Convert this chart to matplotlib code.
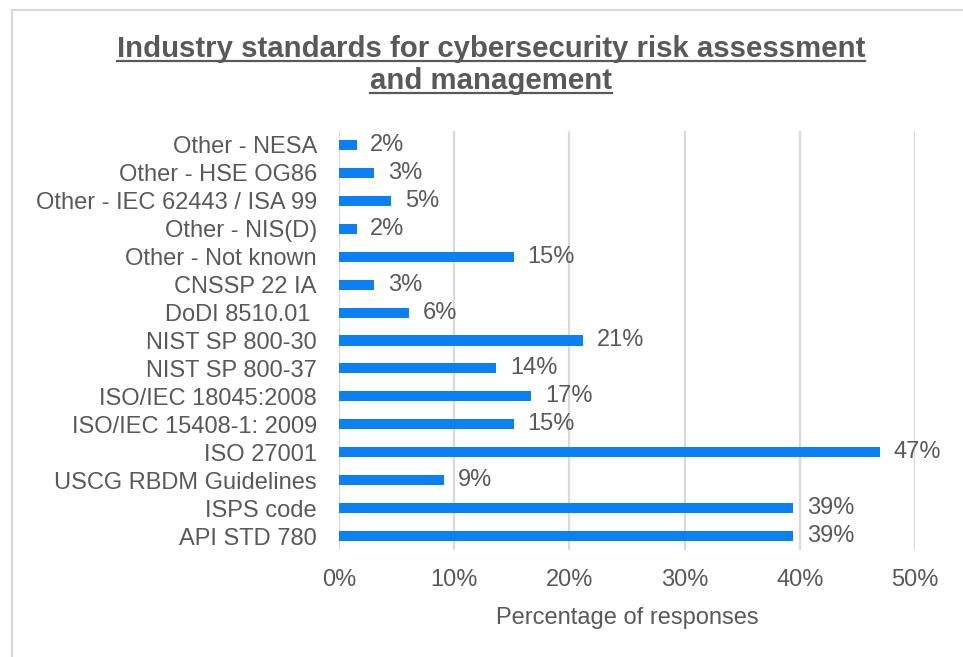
import matplotlib
matplotlib.use("Agg")
import matplotlib.pyplot as plt
from matplotlib.lines import Line2D
from matplotlib.ticker import FuncFormatter

# categories listed top to bottom as in the chart
categories = ["Other - NESA", "Other - HSE OG86", "Other - IEC 62443 / ISA 99",
              "Other - NIS(D)", "Other - Not known", "CNSSP 22 IA", "DoDI 8510.01 ",
              "NIST SP 800-30", "NIST SP 800-37", "ISO/IEC 18045:2008",
              "ISO/IEC 15408-1: 2009", "ISO 27001", "USCG RBDM Guidelines",
              "ISPS code", "API STD 780"]
# percentage of responses
values = [1.52, 3.03, 4.55, 1.52, 15.15, 3.03, 6.06, 21.21, 13.64, 16.67,
          15.15, 46.97, 9.09, 39.39, 39.39]
xticks = [0, 10, 20, 30, 40, 50]

W, H = 963, 657
text_col = "#595959"
grid_col = "#d9d9d9"
bar_col = "#0a80f2"
fs = 17

plt.rcParams["font.family"] = ["Liberation Sans", "DejaVu Sans"]

fig = plt.figure(figsize=(W / 100, H / 100), dpi=100)
ax = fig.add_axes([339 / W, 1 - 550 / H, (915 - 339) / W, (550 - 131) / H])

ypos = list(range(len(categories)))
ax.barh(ypos, values, height=0.36, color=bar_col, zorder=3)
for y, v in zip(ypos, values):
    ax.text(v + 1.2, y, f"{v:.0f}%", va="center", ha="left",
            fontsize=fs, color=text_col, zorder=4)

ax.set_ylim(len(categories) - 0.5, -0.5)
ax.set_xlim(0, 50)
ax.set_yticks(ypos)
ax.set_yticklabels(categories, fontsize=fs, color=text_col)
ax.set_xticks(xticks)
ax.xaxis.set_major_formatter(FuncFormatter(lambda x, p: f"{x:.0f}%"))
ax.tick_params(axis="x", labelsize=fs, labelcolor=text_col, length=0, pad=14)
ax.tick_params(axis="y", length=0, pad=16)
ax.grid(axis="x", color=grid_col, linewidth=1.6, zorder=0)
for s in ax.spines.values():
    s.set_visible(False)

ax.set_xlabel("Percentage of responses", fontsize=fs, color=text_col, labelpad=11)

# title, bold and underlined
xc = 0.5 * (116 + 866) / W
t1 = fig.text(xc, 1 - 57 / H, "Industry standards for cybersecurity risk assessment",
              ha="center", va="baseline", fontsize=21.2, fontweight="bold",
              color=text_col)
t2 = fig.text(xc, 1 - 89 / H, "and management",
              ha="center", va="baseline", fontsize=21.2, fontweight="bold",
              color=text_col)

fig.canvas.draw()
r = fig.canvas.get_renderer()
for t, yb in ((t1, 57), (t2, 89)):
    bb = t.get_window_extent(r).transformed(fig.transFigure.inverted())
    yline = 1 - (yb + 4) / H
    fig.add_artist(Line2D([bb.x0, bb.x1], [yline, yline], color=text_col,
                          linewidth=1.6, transform=fig.transFigure))

# chart border (top and left visible)
fig.add_artist(Line2D([12 / W, 1], [1 - 10 / H, 1 - 10 / H], color=grid_col,
                      linewidth=1.5, transform=fig.transFigure))
fig.add_artist(Line2D([12 / W, 12 / W], [0, 1 - 10 / H], color=grid_col,
                      linewidth=1.5, transform=fig.transFigure))

fig.savefig("out.png", dpi=100)
